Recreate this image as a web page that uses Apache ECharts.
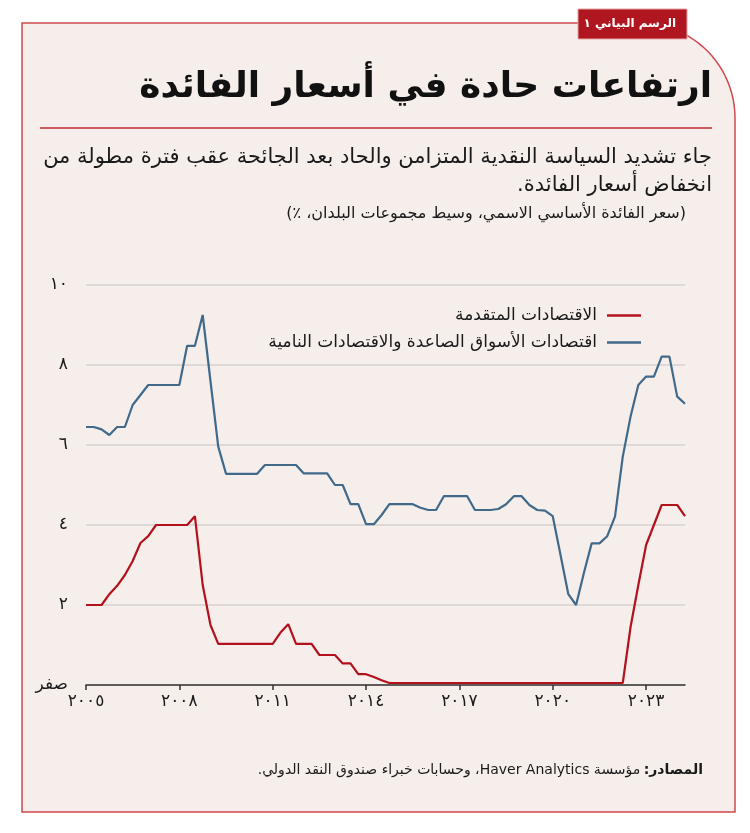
<!DOCTYPE html>
<html>
<head>
<meta charset="utf-8">
<script src="https://cdn.jsdelivr.net/npm/echarts@6/dist/echarts.min.js"></script>
<style>
html,body{margin:0;padding:0;background:#ffffff;}
#c{width:750px;height:833px;direction:rtl;}
</style>
</head>
<body>
<div id="c"></div>
<script>
// ---- data ----
const quarters = [];
for (let y = 2005; y <= 2024; y++) { for (let q = 1; q <= 4; q++) { quarters.push(y + 'Q' + q); } }
const categories = quarters.slice(0, 78); // 2005Q1 .. 2024Q2

const advancedName = 'الاقتصادات المتقدمة';
const emergingName = 'اقتصادات الأسواق الصاعدة والاقتصادات النامية';

const advanced = [
  2.0, 2.0, 2.0, 2.27, 2.48, 2.75, 3.1, 3.55, 3.72, 4.0,
  4.0, 4.0, 4.0, 4.0, 4.22, 2.5, 1.5, 1.03, 1.03, 1.03,
  1.03, 1.03, 1.03, 1.03, 1.03, 1.31, 1.52, 1.03, 1.03, 1.03,
  0.75, 0.75, 0.75, 0.54, 0.54, 0.27, 0.27, 0.2, 0.12, 0.05,
  0.05, 0.05, 0.05, 0.05, 0.05, 0.05, 0.05, 0.05, 0.05, 0.05,
  0.05, 0.05, 0.05, 0.05, 0.05, 0.05, 0.05, 0.05, 0.05, 0.05,
  0.05, 0.05, 0.05, 0.05, 0.05, 0.05, 0.05, 0.05, 0.05, 0.05,
  1.45, 2.5, 3.5, 4.0, 4.5, 4.5, 4.5, 4.22
];
const emerging = [
  6.45, 6.45, 6.39, 6.25, 6.45, 6.45, 7.0, 7.25, 7.5, 7.5,
  7.5, 7.5, 7.5, 8.48, 8.48, 9.25, 7.6, 5.96, 5.28, 5.28,
  5.28, 5.28, 5.28, 5.5, 5.5, 5.5, 5.5, 5.5, 5.29, 5.29,
  5.29, 5.29, 5.0, 5.0, 4.52, 4.52, 4.02, 4.02, 4.25, 4.52,
  4.52, 4.52, 4.52, 4.43, 4.375, 4.375, 4.72, 4.72, 4.72, 4.72,
  4.375, 4.375, 4.375, 4.4, 4.52, 4.72, 4.72, 4.5, 4.375, 4.36,
  4.22, 3.25, 2.27, 2.0, 2.8, 3.54, 3.54, 3.72, 4.21, 5.71,
  6.71, 7.5, 7.71, 7.71, 8.21, 8.21, 7.21, 7.03
];
const yTicks = [0, 2, 4, 6, 8, 10];

const tagText = 'الرسم البياني ١';
const titleText = 'ارتفاعات حادة في أسعار الفائدة';
const subLine1 = 'جاء تشديد السياسة النقدية المتزامن والحاد بعد الجائحة عقب فترة مطولة من';
const subLine2 = 'انخفاض أسعار الفائدة.';
const subLine3 = '(سعر الفائدة الأساسي الاسمي، وسيط مجموعات البلدان، ٪)';
const sourceLabel = 'المصادر:';
const sourceText = 'مؤسسة Haver Analytics، وحسابات خبراء صندوق النقد الدولي.';

// ---- helpers ----
const AR_DIGITS = '٠١٢٣٤٥٦٧٨٩';
function toArabicDigits(s) { return String(s).replace(/[0-9]/g, d => AR_DIGITS[+d]); }

const FONT = "'DejaVu Sans', 'Noto Sans', sans-serif";
const RED = '#b3121c';
const BLUE = '#40698a';
const TXT = '#1a1a1a';

// frame outline with rounded top-right corner
const FL = 22, FT = 23, FR = 735, FB = 812, FRAD = 95;
const framePts = [[FL, FB], [FL, FT]];
for (let i = 0; i <= 24; i++) {
  const a = -Math.PI / 2 + (Math.PI / 2) * i / 24;
  framePts.push([FR - FRAD + FRAD * Math.cos(a), FT + FRAD + FRAD * Math.sin(a)]);
}
framePts.push([FR, FB]);

const chart = echarts.init(document.getElementById('c'), null, { renderer: 'canvas' });

const option = {
  animation: false,
  backgroundColor: '#ffffff',
  textStyle: { fontFamily: FONT },
  graphic: [
    { type: 'polygon', z: -10, shape: { points: framePts },
      style: { fill: '#f5eeeb', stroke: '#cf4a4f', lineWidth: 1.5 } },
    { type: 'rect', z: 10, shape: { x: 578, y: 9, width: 109, height: 30 },
      style: { fill: '#b0161f', stroke: '#e7a3a3', lineWidth: 1 } },
    { type: 'text', z: 11, x: 676, y: 24,
      style: { text: tagText, fill: '#ffffff', font: 'bold 12px ' + FONT, textAlign: 'right', textVerticalAlign: 'middle' } },
    { type: 'text', z: 11, x: 712, y: 88,
      style: { text: titleText, fill: '#111111', font: 'bold 36px ' + FONT, textAlign: 'right', textVerticalAlign: 'middle' } },
    { type: 'line', z: 11, shape: { x1: 40, y1: 128, x2: 712, y2: 128 },
      style: { stroke: '#c0282d', lineWidth: 1.5 } },
    { type: 'text', z: 11, x: 712, y: 158,
      style: { text: subLine1, fill: TXT, font: '21px ' + FONT, textAlign: 'right', textVerticalAlign: 'middle' } },
    { type: 'text', z: 11, x: 712, y: 186,
      style: { text: subLine2, fill: TXT, font: '21px ' + FONT, textAlign: 'right', textVerticalAlign: 'middle' } },
    { type: 'text', z: 11, x: 686, y: 214,
      style: { text: subLine3, fill: TXT, font: '16px ' + FONT, textAlign: 'right', textVerticalAlign: 'middle' } },
    { type: 'text', z: 11, x: 703, y: 770,
      style: {
        text: '{n|' + sourceText + '} {b|' + sourceLabel + '}',
        textAlign: 'right', textVerticalAlign: 'middle',
        rich: {
          n: { fontSize: 14, fontFamily: FONT, fill: TXT, color: TXT },
          b: { fontSize: 14, fontFamily: FONT, fontWeight: 'bold', fill: TXT, color: TXT }
        }
      } }
  ],
  legend: [
    { data: [advancedName], right: 109, top: 307, padding: 0, align: 'right', icon: 'rect', itemWidth: 34, itemHeight: 2.5,
      textStyle: { fontSize: 17, color: TXT, fontFamily: FONT, padding: [0, 5, 0, 0] } },
    { data: [emergingName], right: 109, top: 334, padding: 0, align: 'right', icon: 'rect', itemWidth: 34, itemHeight: 2.5,
      textStyle: { fontSize: 17, color: TXT, fontFamily: FONT, padding: [0, 5, 0, 0] } }
  ],
  grid: { left: 86, right: 65, top: 285, bottom: 148, containLabel: false },
  xAxis: {
    type: 'category',
    data: categories,
    boundaryGap: false,
    axisLine: { show: true, lineStyle: { color: '#333333', width: 1.5 } },
    axisTick: { show: true, interval: 11, length: 5, lineStyle: { color: '#333333', width: 1.5 } },
    axisLabel: { interval: 11, margin: 8, fontSize: 17, color: TXT, fontFamily: FONT,
      formatter: v => toArabicDigits(v.slice(0, 4)) },
    splitLine: { show: false }
  },
  yAxis: {
    type: 'value',
    min: yTicks[0], max: yTicks[yTicks.length - 1], interval: 2,
    axisLine: { show: false }, axisTick: { show: false },
    axisLabel: { margin: 18, fontSize: 17, color: TXT, fontFamily: FONT,
      formatter: v => v === 0 ? 'صفر' : toArabicDigits(v) },
    splitLine: { show: true, lineStyle: { color: '#d6d1cf', width: 1.5 } }
  },
  series: [
    { name: advancedName, type: 'line', data: advanced, symbol: 'none', z: 3,
      lineStyle: { color: RED, width: 2.2 }, itemStyle: { color: RED } },
    { name: emergingName, type: 'line', data: emerging, symbol: 'none', z: 4,
      lineStyle: { color: BLUE, width: 2.2 }, itemStyle: { color: BLUE } }
  ]
};
chart.setOption(option);
</script>
</body>
</html>
